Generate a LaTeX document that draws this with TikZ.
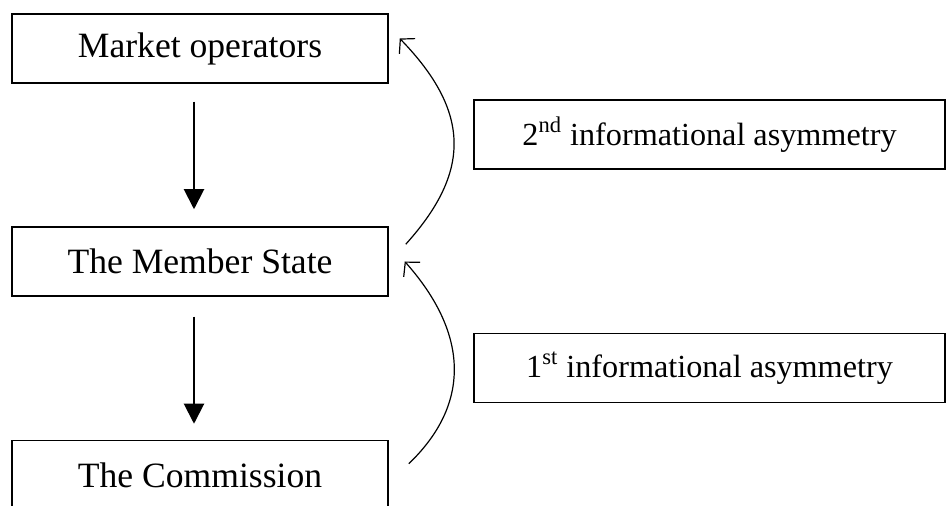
\documentclass[tikz,border=0pt]{standalone}
\usepackage{fontspec}
\setmainfont{Liberation Serif}
\usetikzlibrary{arrows.meta}
\begin{document}
\begin{tikzpicture}[x=0.5pt,y=-0.5pt,
    box/.style={draw,line width=0.75pt,minimum width=188pt,minimum height=34.5pt,inner sep=0pt,font=\fontsize{17.8}{20}\selectfont},
    infobox/.style={draw,line width=0.75pt,minimum width=235.5pt,minimum height=34.5pt,inner sep=0pt,font=\fontsize{16.1}{19}\selectfont},
    down/.style={line width=1pt,-{Triangle[length=10pt,width=10pt]}},
    up/.style={line width=0.6pt,-{Straight Barb[length=5pt,width=11pt]}}]
            \useasboundingbox (0,0) rectangle (946,506);
            \node[box] (M) at (200,48.5) {Market operators};
            \node[box] (S) at (200,261.5) {The Member State};
            \node[box] (C) at (200,475) {The Commission};

            \node[infobox] (A2) at (709.5,134.5) {2\textsuperscript{nd} informational asymmetry};
            \node[infobox] (A1) at (709.5,368) {1\textsuperscript{st} informational asymmetry};

            \draw[down] ([xshift=-3pt,yshift=-9pt]M.south) -- ([xshift=-3pt,yshift=8.5pt]S.north);
            \draw[down] ([xshift=-3pt,yshift=-10pt]S.south) -- ([xshift=-3pt,yshift=8pt]C.north);

            \draw[up] ([xshift=8.5pt,yshift=-9pt]S.north east) .. controls (471,172) and (471,112) .. ([xshift=5.5pt,yshift=5pt]M.east);
            \draw[up] ([xshift=10pt,yshift=-12pt]C.north east) .. controls (470,405) and (470,335) .. ([xshift=8pt,yshift=0pt]S.east);
\end{tikzpicture}
\end{document}
